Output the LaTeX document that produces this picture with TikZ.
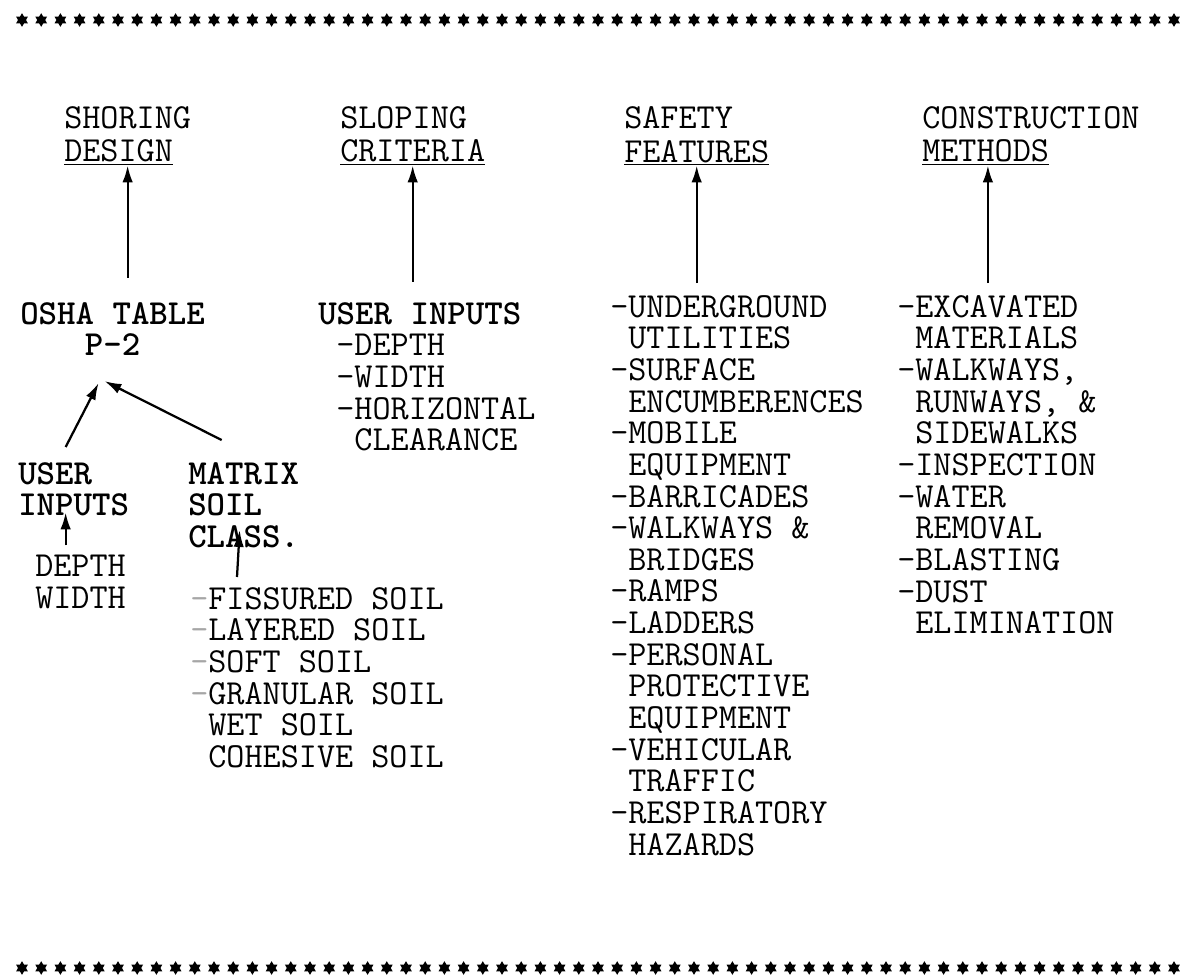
\documentclass[tikz,border=0pt]{standalone}
\usepackage{tikz}
\usetikzlibrary{arrows.meta,positioning,calc,shapes.geometric}
\newcommand{\behuz}{\hphantom{-}}
\newcommand{\halvany}[1]{\textcolor{black!35}{#1}}
\tikzset{
  csillag/.style={star,star points=6,star point ratio=1.7,fill,inner sep=0pt,minimum size=0.34cm},
  nyil/.style={line width=1.6pt,-{Latex[length=4.2mm,width=2.6mm]}},
  szoveg/.style={font=\fontsize{25}{22.5}\selectfont\ttfamily,inner sep=0pt,anchor=north west,align=left},
  kover/.style={szoveg,font=\fontsize{25}{22.5}\selectfont\ttfamily\bfseries},
}

\begin{document}
\begin{tikzpicture}[x=0.025cm,y=-0.025cm]
  \useasboundingbox (0,0) rectangle (1180,980);
  % csillagsorok
  \foreach \i in {0,...,60} {
    \node[csillag] at (22+19.2*\i,20) {};
    \node[csillag] at (22+19.2*\i,968) {};
  }
  % cimek
  \node[szoveg] (shoring) at (64,106) {SHORING\\[1.5pt]\underline{DESIGN}};
  \node[szoveg] (sloping) at (340,106) {SLOPING\\[1.5pt]\underline{CRITERIA}};
  \node[szoveg] (safety) at (624,106) {SAFETY\\[1.5pt]\underline{FEATURES}};
  \node[szoveg] (construction) at (922,106) {CONSTRUCTION\\[1.5pt]\underline{METHODS}};
  % also sor
  \node[kover,align=center] (osha) at (20,302) {OSHA TABLE\\P-2};
  \node[szoveg] (inputs) at (318,302)
    {\textbf{USER INPUTS}\\\behuz-DEPTH\\\behuz-WIDTH\\\behuz-HORIZONTAL\\\behuz\behuz CLEARANCE};
  \node[szoveg] (safetylist) at (610,295)
    {-UNDERGROUND\\\behuz UTILITIES\\-SURFACE\\\behuz ENCUMBERENCES\\-MOBILE\\\behuz EQUIPMENT\\
     -BARRICADES\\-WALKWAYS \&\\\behuz BRIDGES\\-RAMPS\\-LADDERS\\-PERSONAL\\\behuz PROTECTIVE\\
     \behuz EQUIPMENT\\-VEHICULAR\\\behuz TRAFFIC\\-RESPIRATORY\\\behuz HAZARDS};
  \node[szoveg] (conslist) at (897,295)
    {-EXCAVATED\\\behuz MATERIALS\\-WALKWAYS,\\\behuz RUNWAYS, \&\\\behuz SIDEWALKS\\-INSPECTION\\
     -WATER\\\behuz REMOVAL\\-BLASTING\\-DUST\\\behuz ELIMINATION};
  \node[kover] (userl) at (18,462) {USER\\INPUTS};
  \node[kover] (matrix) at (188,462) {MATRIX\\SOIL\\CLASS.};
  \node[szoveg] (depth) at (35,555) {DEPTH\\WIDTH};
  \node[szoveg] (soil) at (190,587)
    {\halvany{-}FISSURED SOIL\\\halvany{-}LAYERED SOIL\\\halvany{-}SOFT SOIL\\\halvany{-}GRANULAR SOIL\\
     \behuz WET SOIL\\\behuz COHESIVE SOIL};
  % nyilak
  \draw[nyil,shorten <=6mm] (shoring.south |- osha.north) -- (shoring.south);
  \draw[nyil,shorten <=5mm] (sloping.south |- inputs.north) -- (sloping.south);
  \draw[nyil,shorten <=3mm] (safety.south |- safetylist.north) -- (safety.south);
  \draw[nyil,shorten <=3mm] ($(construction.south |- conslist.north)+(-43,0)$) -- ($(construction.south)+(-43,0)$);
  \draw[nyil] ($(userl.north)+(-8,-15)$) -- ($(osha.south)+(-14,27)$);
  \draw[nyil] ($(matrix.north)+(-22,-22)$) -- ($(osha.south)+(-8,25)$);
  \draw[nyil] ($(userl.south)+(-8,29)$) -- ($(userl.south)+(-8,-4)$);
  \draw[nyil] ($(soil.north west)+(47,-10)$) -- ($(matrix.south)+(-4,-18)$);
\end{tikzpicture}
\end{document}
